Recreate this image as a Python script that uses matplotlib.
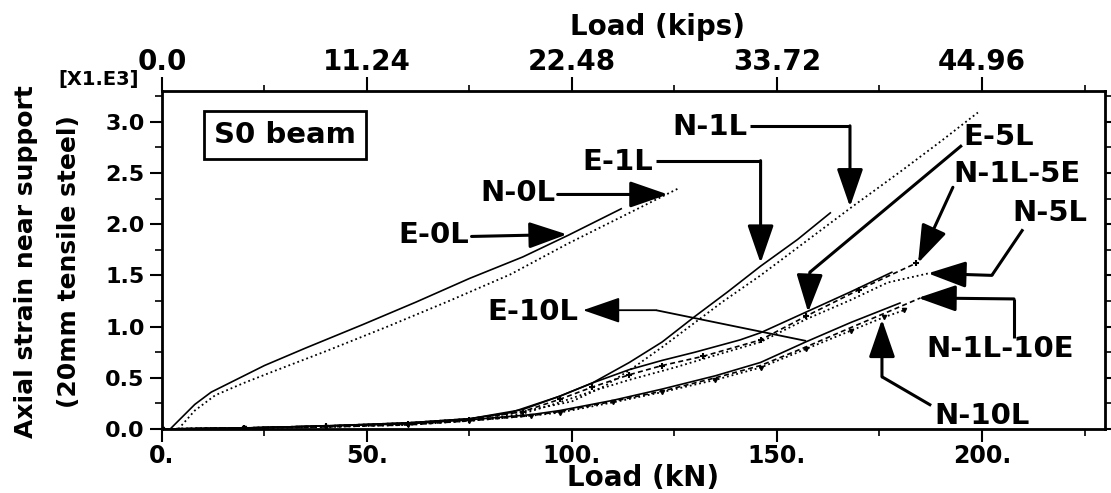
import matplotlib
matplotlib.use("Agg")
import matplotlib.pyplot as plt
from matplotlib.ticker import MultipleLocator

plt.rcParams['font.family'] = ['DejaVu Sans']
plt.rcParams['font.weight'] = 'bold'

# load in kN, axial strain in x1000
e0l_x = [2, 5, 8, 12, 18, 25, 35, 49, 62, 75, 88, 99, 112]
e0l_y = [0, 0.12, 0.24, 0.36, 0.48, 0.62, 0.79, 1.02, 1.24, 1.47, 1.68, 1.89, 2.15]

n0l_x = [4, 8, 13, 20, 27, 40, 55, 70, 85, 99, 112, 126]
n0l_y = [0, 0.18, 0.33, 0.45, 0.56, 0.76, 1.00, 1.25, 1.51, 1.81, 2.07, 2.35]

e1l_x = [0, 20, 40, 60, 75, 85, 97, 105, 114, 122, 130, 138, 146, 155, 163]
e1l_y = [0, 0.01, 0.03, 0.06, 0.10, 0.16, 0.32, 0.45, 0.65, 0.85, 1.10, 1.34, 1.59, 1.85, 2.11]

n1l_x = [0, 20, 40, 60, 75, 88, 100, 108, 115, 122, 129, 137, 146, 157, 168, 180, 190, 199]
n1l_y = [0, 0.01, 0.03, 0.06, 0.10, 0.17, 0.27, 0.42, 0.60, 0.80, 1.01, 1.25, 1.50, 1.83, 2.16, 2.51, 2.81, 3.09]

e5l_x = [0, 20, 40, 60, 75, 88, 97, 105, 114, 122, 130, 141, 146, 157, 168, 178]
e5l_y = [0, 0.01, 0.03, 0.06, 0.10, 0.19, 0.32, 0.45, 0.58, 0.67, 0.75, 0.87, 0.94, 1.14, 1.34, 1.53]

n1l5e_x = [0, 20, 40, 60, 75, 88, 97, 105, 114, 122, 132, 146, 157, 170, 184]
n1l5e_y = [0, 0.01, 0.03, 0.05, 0.09, 0.17, 0.29, 0.41, 0.53, 0.62, 0.71, 0.87, 1.10, 1.36, 1.62]

n5l_x = [0, 20, 40, 60, 75, 88, 97, 105, 114, 125, 135, 146, 157, 168, 177, 187]
n5l_y = [0, 0.01, 0.02, 0.05, 0.08, 0.15, 0.26, 0.37, 0.48, 0.60, 0.72, 0.85, 1.07, 1.26, 1.43, 1.52]

e10l_x = [0, 20, 40, 60, 75, 90, 97, 110, 122, 135, 146, 157, 168, 180]
e10l_y = [0, 0.01, 0.03, 0.05, 0.09, 0.14, 0.18, 0.28, 0.39, 0.52, 0.65, 0.85, 1.04, 1.23]

n10l_x = [0, 20, 40, 60, 75, 90, 97, 110, 122, 135, 146, 157, 168, 176, 181]
n10l_y = [0, 0.01, 0.02, 0.04, 0.08, 0.13, 0.16, 0.26, 0.36, 0.48, 0.60, 0.78, 0.96, 1.09, 1.16]

n1l10e_x = [0, 20, 40, 60, 75, 90, 97, 110, 122, 135, 146, 157, 168, 178, 185]
n1l10e_y = [0, 0.01, 0.02, 0.04, 0.08, 0.13, 0.17, 0.27, 0.37, 0.50, 0.62, 0.80, 0.99, 1.16, 1.28]

kn_ticks = [0, 50, 100, 150, 200]
kn_labels = ['0.', '50.', '100.', '150.', '200.']
kips_labels = ['0.0', '11.24', '22.48', '33.72', '44.96']

fig = plt.figure(figsize=(11.11, 4.93), dpi=100)
ax = fig.add_axes([0.1458, 0.1298, 0.8488, 0.6856])

ax.plot(e0l_x, e0l_y, 'k-', lw=1.2)
ax.plot(n0l_x, n0l_y, 'k:', lw=1.3)
ax.plot(e1l_x, e1l_y, 'k-', lw=1.2)
ax.plot(n1l_x, n1l_y, 'k:', lw=1.3)
ax.plot(e5l_x, e5l_y, 'k-', lw=1.2)
ax.plot(n1l5e_x, n1l5e_y, 'k--', lw=1.2, dashes=(3, 2), marker='+', ms=5, mew=1.5)
ax.plot(n5l_x, n5l_y, 'k:', lw=1.3)
ax.plot(e10l_x, e10l_y, 'k-', lw=1.2)
ax.plot(n10l_x, n10l_y, 'k:', lw=1.3, marker='v', ms=3)
ax.plot(n1l10e_x, n1l10e_y, 'k--', lw=1.2, dashes=(3, 2))

ax.set_xlim(0, 230)
ax.set_ylim(0, 3.30)
ax.set_xticks(kn_ticks)
ax.set_xticklabels(kn_labels)
ax.xaxis.set_minor_locator(MultipleLocator(25))
ax.yaxis.set_major_locator(MultipleLocator(0.5))
ax.yaxis.set_minor_locator(MultipleLocator(0.25))
ax.yaxis.set_major_formatter(matplotlib.ticker.FormatStrFormatter('%.1f'))
ax.tick_params(which='major', direction='out', length=9, width=1.5, labelsize=16, right=True)
ax.tick_params(axis='x', labelsize=17, pad=2)
ax.tick_params(which='minor', direction='out', length=5, width=1.2, right=True)
for s in ax.spines.values():
    s.set_linewidth(2)

ax2 = ax.twiny()
ax2.set_xlim(ax.get_xlim())
ax2.set_xticks(kn_ticks)
ax2.set_xticklabels(kips_labels)
ax2.xaxis.set_minor_locator(MultipleLocator(25))
ax2.tick_params(which='major', direction='out', length=10, width=1.5, labelsize=20, pad=1)
ax2.tick_params(which='minor', direction='out', length=4, width=1.2)

fig.text(0.592, 0.945, 'Load (kips)', ha='center', va='center', fontsize=20, fontweight='bold')
fig.text(0.579, 0.030, 'Load (kN)', ha='center', va='center', fontsize=20, fontweight='bold')
fig.text(0.023, 0.47, 'Axial strain near support', rotation=90, ha='center', va='center',
         fontsize=18, fontweight='bold')
fig.text(0.062, 0.47, '(20mm tensile steel)', rotation=90, ha='center', va='center',
         fontsize=18, fontweight='bold')
fig.text(0.089, 0.838, '[X1.E3]', ha='center', va='center', fontsize=14, fontweight='bold')

ax.text(30, 2.87, 'S0 beam', ha='center', va='center', fontsize=21, fontweight='bold',
        bbox=dict(boxstyle='square,pad=0.35', fc='white', ec='k', lw=2))

# label, text position, alignment, arrow path (last point = tip), line width
notes = [
    ('E-0L', (75.0, 1.89), 'right', [(75.5, 1.88), (98.8, 1.90)], 2.2),
    ('N-0L', (96.0, 2.30), 'right', [(96.5, 2.29), (123.4, 2.29)], 2.2),
    ('E-1L', (119.8, 2.61), 'right', [(120.5, 2.62), (146, 2.62), (146, 1.62)], 2.2),
    ('N-1L', (142.7, 2.95), 'right', [(143.5, 2.96), (167.8, 2.96), (167.8, 2.17)], 2.2),
    ('E-5L', (195.4, 2.85), 'left', [(195.1, 2.77), (158.0, 1.53), (157.6, 1.14)], 2.2),
    ('N-1L-5E', (192.9, 2.49), 'left', [(192.9, 2.36), (184.4, 1.62)], 2.2),
    ('N-5L', (207.3, 2.11), 'left', [(210.0, 1.95), (202.4, 1.50), (186.8, 1.52)], 2.2),
    ('N-1L-10E', (186.5, 0.78), 'left', [(207.8, 0.89), (207.8, 1.27), (184.4, 1.28)], 2.2),
    ('N-10L', (188.5, 0.13), 'left', [(187.6, 0.23), (175.6, 0.51), (175.6, 1.07)], 2.2),
    ('E-10L', (101.5, 1.14), 'right', [(157.1, 0.86), (120.5, 1.16), (102.7, 1.16)], 1.3),
]
for lab, pos, ha, path, lw in notes:
    ax.text(pos[0], pos[1], lab, ha=ha, va='center', fontsize=21, fontweight='bold')
    xs = [p[0] for p in path]
    ys = [p[1] for p in path]
    if len(path) > 2:
        ax.plot(xs[:-1], ys[:-1], 'k-', lw=lw, solid_capstyle='butt')
    ax.annotate('', xy=path[-1], xytext=path[-2],
                arrowprops=dict(arrowstyle='-|>,head_length=1.3,head_width=0.45',
                                mutation_scale=18, color='k', lw=lw,
                                shrinkA=0, shrinkB=0))

fig.savefig('out.png', dpi=100)
